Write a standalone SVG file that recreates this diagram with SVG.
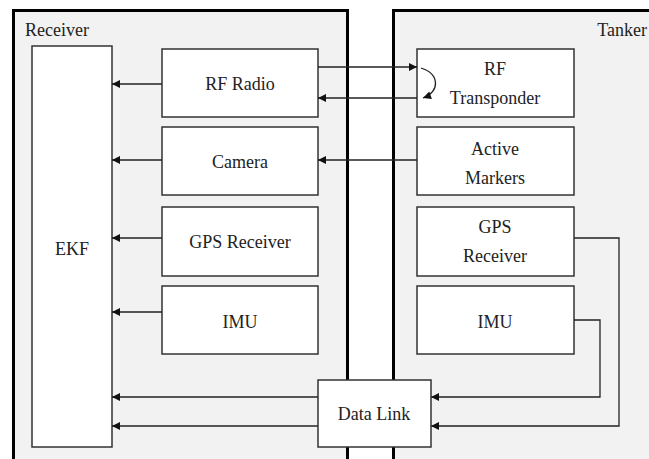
<svg xmlns="http://www.w3.org/2000/svg" width="649" height="459" viewBox="0 0 649 459" font-family="Liberation Serif, Times New Roman, serif">
<defs>
<marker id="ah" viewBox="0 0 10 10" refX="10" refY="5" markerWidth="10" markerHeight="8" markerUnits="userSpaceOnUse" orient="auto">
<path d="M0,0 L10,5 L0,10 z" fill="#111"/>
</marker>
<style>
.panel{fill:#f2f2f2;stroke:#000;stroke-width:3}
.box{fill:#fff;stroke:#333;stroke-width:1.5}
text{font-family:'Liberation Serif','Times New Roman',serif;font-size:18px;fill:#222}
.m{text-anchor:middle}
.c{fill:none;stroke:#222;stroke-width:1.3;marker-end:url(#ah)}
</style>
</defs>
<rect width="649" height="459" fill="#fff"/>
<g id="receiver-panel">
<rect class="panel" x="13.5" y="10.5" width="334" height="460"/>
<text x="25" y="36">Receiver</text>
</g>
<g id="tanker-panel">
<rect class="panel" x="393.5" y="10.5" width="270" height="460"/>
<text x="647" y="36" text-anchor="end">Tanker</text>
</g>
<g id="ekf"><rect class="box" x="32" y="46" width="80" height="401"/><text class="m" x="72" y="255">EKF</text></g>
<g id="rf-radio"><rect class="box" x="162" y="49" width="156" height="68"/><text class="m" x="240" y="90">RF Radio</text></g>
<g id="camera"><rect class="box" x="162" y="127" width="156" height="68"/><text class="m" x="240" y="168">Camera</text></g>
<g id="gps-rx"><rect class="box" x="162" y="207" width="156" height="69"/><text class="m" x="240" y="248">GPS Receiver</text></g>
<g id="imu-rx"><rect class="box" x="162" y="286" width="156" height="68"/><text class="m" x="240" y="328">IMU</text></g>
<g id="rf-transponder"><rect class="box" x="417" y="49" width="157" height="68"/><text class="m" x="495" y="75">RF</text><text class="m" x="495" y="104">Transponder</text></g>
<g id="active-markers"><rect class="box" x="417" y="127" width="157" height="68"/><text class="m" x="495" y="155">Active</text><text class="m" x="495" y="184">Markers</text></g>
<g id="gps-tk"><rect class="box" x="417" y="207" width="157" height="69"/><text class="m" x="495" y="233">GPS</text><text class="m" x="495" y="262">Receiver</text></g>
<g id="imu-tk"><rect class="box" x="417" y="286" width="157" height="68"/><text class="m" x="495" y="328">IMU</text></g>
<g id="connectors">
<path class="c" d="M162,84 H112"/>
<path class="c" d="M162,160 H112"/>
<path class="c" d="M162,238 H112"/>
<path class="c" d="M162,312 H112"/>
<path class="c" d="M318,397 H112"/>
<path class="c" d="M318,426 H112"/>
<path class="c" d="M318,67 H417"/>
<path class="c" d="M417,98 H318"/>
<path class="c" d="M417,160 H318"/>
<path class="c" d="M421,68 C440,74 440,92 423,98"/>
<path class="c" d="M574,320 H600 V397 H431"/>
<path class="c" d="M574,238 H619 V426 H431"/>
</g>
<g id="data-link"><rect class="box" x="318" y="380" width="113" height="67"/><text class="m" x="374" y="420">Data Link</text></g>
</svg>
